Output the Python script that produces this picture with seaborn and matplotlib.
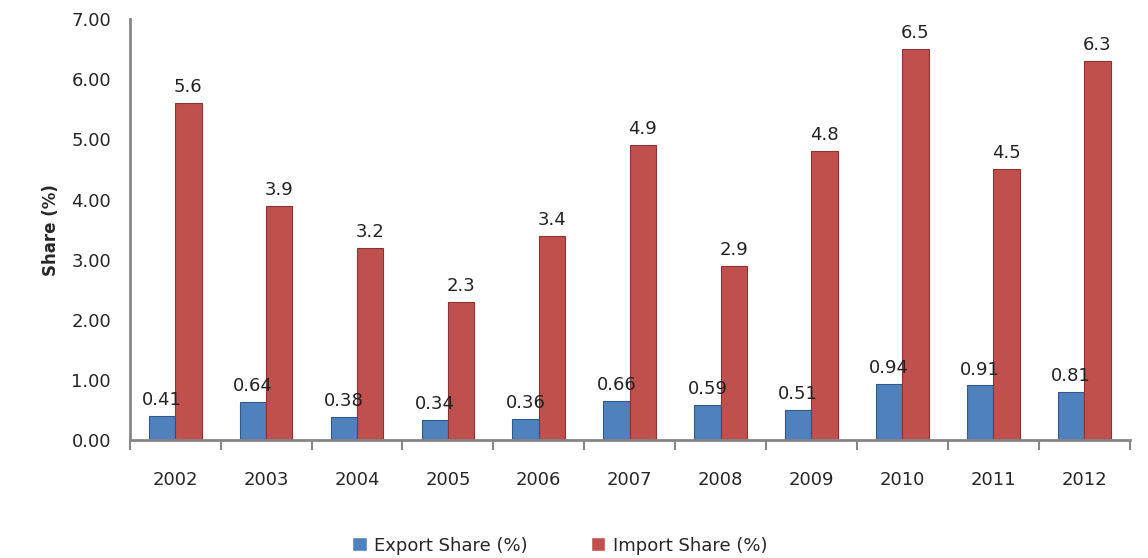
import matplotlib
matplotlib.use("Agg")
import matplotlib.pyplot as plt
import numpy as np
import pandas as pd
import seaborn as sns

years = ["2002", "2003", "2004", "2005", "2006", "2007", "2008", "2009", "2010", "2011", "2012"]
export_share = [0.41, 0.64, 0.38, 0.34, 0.36, 0.66, 0.59, 0.51, 0.94, 0.91, 0.81]
import_share = [5.6, 3.9, 3.2, 2.3, 3.4, 4.9, 2.9, 4.8, 6.5, 4.5, 6.3]
series_names = ["Export Share (%)", "Import Share (%)"]

df = pd.DataFrame({
    "Year": years * 2,
    "Share": export_share + import_share,
    "Series": [series_names[0]] * len(years) + [series_names[1]] * len(years),
})

sns.set_style("white")
plt.rcParams["font.family"] = ["DejaVu Sans"]

fig = plt.figure(figsize=(11.48, 5.58), dpi=100)
ax = fig.add_axes([0.113, 0.211, 0.871, 0.755])

palette = {series_names[0]: "#4F81BD", series_names[1]: "#C0504D"}
sns.barplot(data=df, x="Year", y="Share", hue="Series", palette=palette,
            width=0.58, gap=0.0, saturation=1, ax=ax, legend=True)

edge = {0: "#2F5A8C", 1: "#8C3230"}
for i, cont in enumerate(ax.containers):
    for bar in cont:
        bar.set_edgecolor(edge[i])
        bar.set_linewidth(0.8)
    labels = [("%.2f" % v).rstrip("0") if i == 0 else "%.1f" % v for v in cont.datavalues]
    ax.bar_label(cont, labels=labels, padding=5, fontsize=13, color="#222222")

ax.set_ylim(0, 7)
ax.set_yticks(np.arange(0, 7.01, 1))
ax.set_yticklabels(["%.2f" % v for v in np.arange(0, 7.01, 1)], fontsize=13)
ax.set_xlim(-0.5, len(years) - 0.5)
ax.set_xlabel("")
ax.set_ylabel("Share (%)", fontsize=12, fontweight="bold", labelpad=8)

# x ticks at category boundaries
ax.set_xticks(np.arange(len(years)))
ax.set_xticklabels(years, fontsize=13)
ax.tick_params(axis="x", which="major", bottom=False, length=0, pad=22)
ax.set_xticks(np.arange(-0.5, len(years)), minor=True)
ax.tick_params(axis="x", which="minor", bottom=True, length=7, color="#868686", width=1.5)
ax.tick_params(axis="y", left=False, pad=10)

for side in ["top", "right"]:
    ax.spines[side].set_visible(False)
for side in ["left", "bottom"]:
    ax.spines[side].set_color("#868686")
    ax.spines[side].set_linewidth(2)

ax.legend(loc="upper center", bbox_to_anchor=(0.43, -0.19), ncol=2, frameon=False,
          fontsize=13, handlelength=0.8, handleheight=0.8, columnspacing=3.5,
          handletextpad=0.4)

fig.savefig("out.png", dpi=100)
